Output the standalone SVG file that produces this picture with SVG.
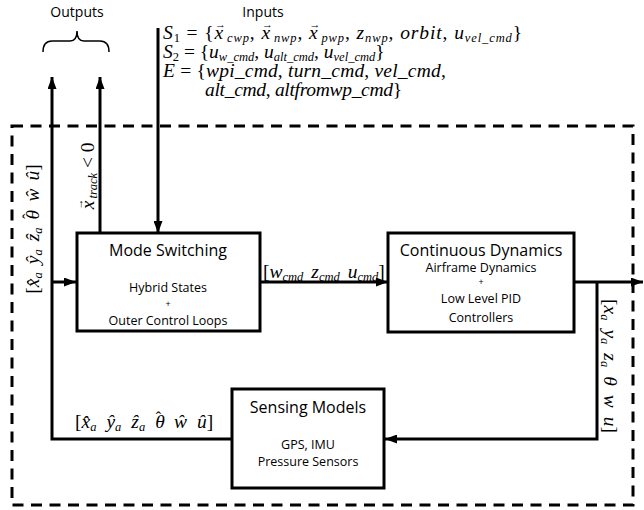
<svg xmlns="http://www.w3.org/2000/svg" width="644" height="510" viewBox="0 0 644 510">
<style>
.bg{fill:#fff}
.box{fill:#fff;stroke:#000;stroke-width:3}
.ln{fill:none;stroke:#000;stroke-width:3}
.dash{fill:none;stroke:#000;stroke-width:3;stroke-dasharray:11 7.5}
.t{font-family:"Open Sans","DejaVu Sans",sans-serif;fill:#000;text-anchor:middle}
.ti{font-size:16px}
.st{font-size:12.5px}
.pl{font-size:9px}
.hd{font-size:14px}
.m{font-family:"Liberation Serif","DejaVu Serif",serif;font-style:italic;font-size:19.5px;fill:#000}
.r{font-style:normal}
.s{font-size:12.5px}
.va{font-size:11px;font-style:normal}
.hat{font-size:16px;font-style:normal}
</style>
<defs>
<marker id="ah" viewBox="0 0 12 9" refX="12" refY="4.5" markerWidth="12" markerHeight="9" markerUnits="userSpaceOnUse" orient="auto">
<path d="M0,0 L12,4.5 L0,9 z" fill="#000"/>
</marker>
</defs>
<rect class="bg" x="0" y="0" width="644" height="510"/>

<g id="boundary">
<rect class="dash" x="12" y="126" width="621" height="379"/>
</g>

<g id="connectors">
<path class="ln" d="M158,28 V233" marker-end="url(#ah)"/>
<path class="ln" d="M260,282 H388" marker-end="url(#ah)"/>
<path class="ln" d="M574,282 H643" marker-end="url(#ah)"/>
<path class="ln" d="M597,282 V439 H385" marker-end="url(#ah)"/>
<path class="ln" d="M232,439 H52 V77" marker-end="url(#ah)"/>
<path class="ln" d="M52,282 H76" marker-end="url(#ah)"/>
<path class="ln" d="M100,233 V77" marker-end="url(#ah)"/>
</g>

<g id="outputs">
<text class="t hd" x="77" y="17">Outputs</text>
<path d="M43,52 Q43,41 52,41 H70 Q77,41 77,31 Q77,41 84,41 H100 Q109,41 109,52" fill="none" stroke="#000" stroke-width="1.5"/>
</g>

<g id="inputs">
<text class="t hd" x="263" y="17">Inputs</text>
<text class="m" x="163" y="39" letter-spacing="0.9">S<tspan class="s r" dy="3">1</tspan><tspan class="r" dy="-3"> = {</tspan>x<tspan class="va" dx="-9" dy="-11">&#x2192;</tspan><tspan class="s" dy="14">cwp</tspan><tspan class="r" dy="-3">, </tspan>x<tspan class="va" dx="-9" dy="-11">&#x2192;</tspan><tspan class="s" dy="14">nwp</tspan><tspan class="r" dy="-3">, </tspan>x<tspan class="va" dx="-9" dy="-11">&#x2192;</tspan><tspan class="s" dy="14">pwp</tspan><tspan class="r" dy="-3">, </tspan>z<tspan class="s" dy="3">nwp</tspan><tspan class="r" dy="-3">, </tspan>orbit<tspan class="r">, </tspan>u<tspan class="s" dy="3">vel_cmd</tspan><tspan class="r" dy="-3">}</tspan></text>
<text class="m" x="163" y="58">S<tspan class="s r" dy="3">2</tspan><tspan class="r" dy="-3"> = {</tspan>u<tspan class="s" dy="3">w_cmd</tspan><tspan class="r" dy="-3">, </tspan>u<tspan class="s" dy="3">alt_cmd</tspan><tspan class="r" dy="-3">, </tspan>u<tspan class="s" dy="3">vel_cmd</tspan><tspan class="r" dy="-3">}</tspan></text>
<text class="m" x="163" y="77" letter-spacing="0.2">E<tspan class="r"> = {</tspan>wpi_cmd<tspan class="r">, </tspan>turn_cmd<tspan class="r">, </tspan>vel_cmd<tspan class="r">,</tspan></text>
<text class="m" x="205" y="96" letter-spacing="-0.3">alt_cmd<tspan class="r">, </tspan>altfromwp_cmd<tspan class="r">}</tspan></text>
</g>

<g id="mode-switching">
<rect class="box" x="77" y="233" width="183" height="98"/>
<text class="t ti" x="168" y="256">Mode Switching</text>
<text class="t st" x="168" y="292">Hybrid States</text>
<text class="t pl" x="168" y="307">+</text>
<text class="t st" x="168" y="325">Outer Control Loops</text>
</g>

<g id="continuous-dynamics">
<rect class="box" x="388" y="233" width="186" height="99"/>
<text class="t ti" x="481" y="256">Continuous Dynamics</text>
<text class="t st" x="481" y="272">Airframe Dynamics</text>
<text class="t pl" x="481" y="285">+</text>
<text class="t st" x="481" y="303">Low Level PID</text>
<text class="t st" x="481" y="322">Controllers</text>
</g>

<g id="sensing-models">
<rect class="box" x="232" y="389" width="152" height="99"/>
<text class="t ti" x="308" y="413">Sensing Models</text>
<text class="t st" x="308" y="449">GPS, IMU</text>
<text class="t st" x="308" y="466">Pressure Sensors</text>
</g>

<g id="labels">
<text class="m" x="263" y="278"><tspan class="r">[</tspan>w<tspan class="s" dy="3">cmd</tspan><tspan dx="8" dy="-3">z</tspan><tspan class="s" dy="3">cmd</tspan><tspan dx="8" dy="-3">u</tspan><tspan class="s" dy="3">cmd</tspan><tspan class="r" dy="-3">]</tspan></text>
<text class="m" x="75" y="428"><tspan class="r">[</tspan>x&#x302;<tspan class="s" dy="3">a</tspan><tspan dx="10" dy="-3">&#x177;</tspan><tspan class="s" dy="3">a</tspan><tspan dx="10" dy="-3">&#x1E91;</tspan><tspan class="s" dy="3">a</tspan><tspan dx="10" dy="-3">&#x3B8;</tspan><tspan class="hat" dx="-9" dy="-5">&#x2C6;</tspan><tspan dx="13" dy="5">&#x175;</tspan><tspan dx="10">&#xFB;</tspan><tspan class="r">]</tspan></text>
<text class="m" transform="translate(39,229) rotate(-90)" text-anchor="middle"><tspan class="r">[</tspan>x&#x302;<tspan class="s" dy="3">a</tspan><tspan dx="8" dy="-3">&#x177;</tspan><tspan class="s" dy="3">a</tspan><tspan dx="8" dy="-3">&#x1E91;</tspan><tspan class="s" dy="3">a</tspan><tspan dx="8" dy="-3">&#x3B8;</tspan><tspan class="hat" dx="-9" dy="-5">&#x2C6;</tspan><tspan dx="12" dy="5">&#x175;</tspan><tspan dx="8">&#xFB;</tspan><tspan class="r">]</tspan></text>
<text class="m" transform="translate(94,176) rotate(-90)" text-anchor="middle">x<tspan class="va" dx="-9" dy="-11">&#x2192;</tspan><tspan class="s" dy="14">track</tspan><tspan class="r" dy="-3"> &lt; 0</tspan></text>
<text class="m" transform="translate(604,366) rotate(90)" text-anchor="middle"><tspan class="r">[</tspan>x<tspan class="s" dy="3">a</tspan><tspan dx="9" dy="-3">y</tspan><tspan class="s" dy="3">a</tspan><tspan dx="9" dy="-3">z</tspan><tspan class="s" dy="3">a</tspan><tspan dx="9" dy="-3">&#x3B8;</tspan><tspan dx="9">w</tspan><tspan dx="9">u</tspan><tspan class="r">]</tspan></text>
</g>
</svg>
